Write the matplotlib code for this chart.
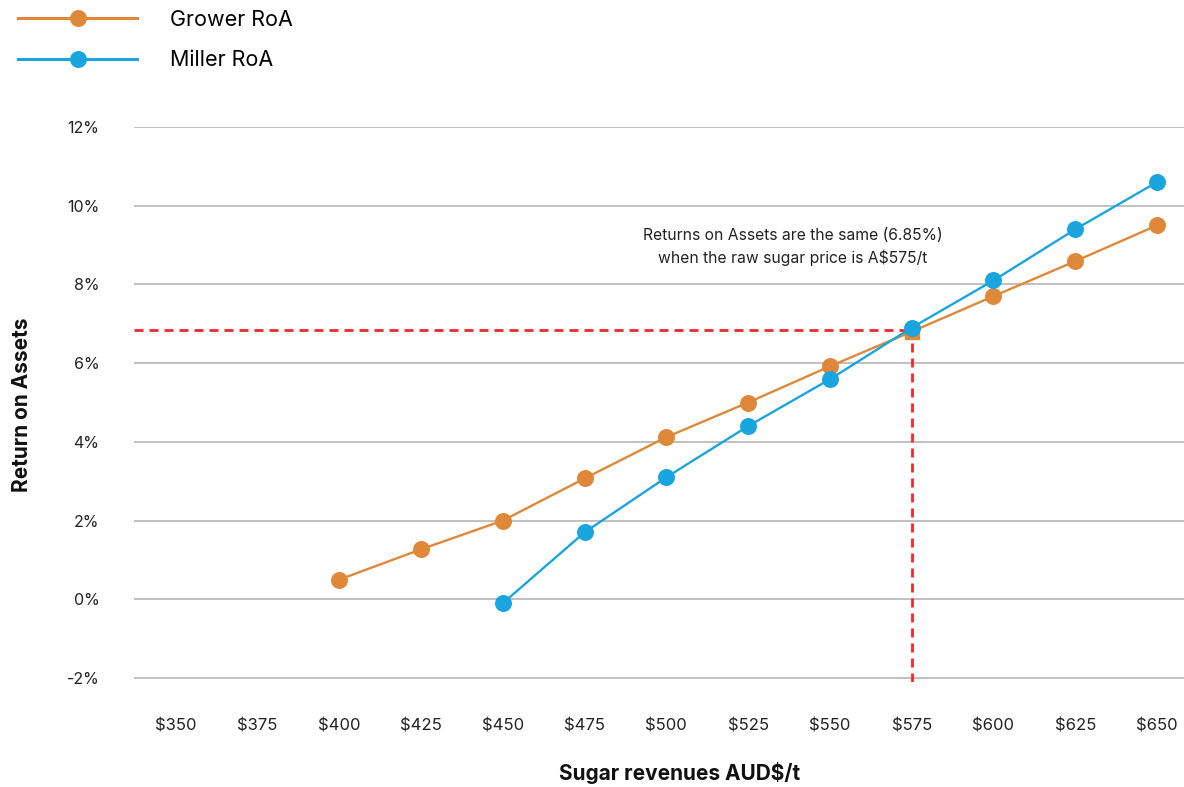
import matplotlib
matplotlib.use("Agg")
import matplotlib.pyplot as plt
import numpy as np

plt.rcParams['font.family'] = ['Inter', 'DejaVu Sans']

# Sugar price categories (AUD$/t)
prices = ["$350", "$375", "$400", "$425", "$450", "$475", "$500",
          "$525", "$550", "$575", "$600", "$625", "$650"]

# Return on assets (%) by price; None where no value
grower_roa = [None, None, 0.5, 1.27, 2.0, 3.07, 4.12, 5.0, 5.92, 6.8, 7.7, 8.59, 9.5]
miller_roa = [None, None, None, None, -0.1, 1.7, 3.1, 4.4, 5.59, 6.9, 8.1, 9.4, 10.6]

breakeven_price = "$575"
breakeven_roa = 6.85

y_ticks = [-2, 0, 2, 4, 6, 8, 10, 12]

ORANGE = "#E0883A"
BLUE = "#1AA5DE"
RED = "#EE2A2F"
GRID = "#B5B5B5"

W, H = 1184, 787
fig = plt.figure(figsize=(W / 100, H / 100), dpi=100)
ax = fig.add_axes([134 / W, 1 - 682 / H, (W - 134) / W, (682 - 127) / H])

x = np.arange(len(prices))

def series(vals):
    xs = [i for i, v in enumerate(vals) if v is not None]
    ys = [v for v in vals if v is not None]
    return np.array(xs), np.array(ys)

gx, gy = series(grower_roa)
mx, my = series(miller_roa)
be_idx = prices.index(breakeven_price)

MS = 11.2
LW = 1.7

# Grower: circles everywhere except the crossing point, drawn as a square
g_mask = gx != be_idx
ax.plot(gx, gy, color=ORANGE, lw=LW, zorder=3)
ax.plot(gx[g_mask], gy[g_mask], 'o', color=ORANGE, ms=MS, zorder=4)
ax.plot(gx[~g_mask], gy[~g_mask], 's', color=ORANGE, ms=10.5, zorder=4)

ax.plot(mx, my, color=BLUE, lw=LW, zorder=5)
ax.plot(mx, my, 'o', color=BLUE, ms=MS, zorder=6)

# Legend handles
ax.plot([], [], '-o', color=ORANGE, lw=2.2, ms=MS, label="Grower RoA")
ax.plot([], [], '-o', color=BLUE, lw=2.2, ms=MS, label="Miller RoA")

ylo = -2 - 4 / 39.36
xlo = -0.51
xhi = (W - 176) / 81.75
ax.set_xlim(xlo, xhi)
ax.set_ylim(ylo, 12)

# Break-even guide lines
dash = (0, (3.25, 2.15))
ax.plot([xlo, be_idx], [breakeven_roa, breakeven_roa], ls=dash,
        color=RED, lw=2.0, zorder=2)
ax.plot([be_idx, be_idx], [ylo, breakeven_roa], ls=dash,
        color=RED, lw=2.0, zorder=2)

ax.text(7.55, 8.96, "Returns on Assets are the same (6.85%)\nwhen the raw sugar price is A$575/t",
        ha="center", va="center", fontsize=11.3, linespacing=1.5, color="#222222")

ax.set_yticks(y_ticks)
ax.set_yticklabels([f"{t}%" for t in y_ticks])
ax.set_xticks(x)
ax.set_xticklabels(prices)
ax.yaxis.grid(True, color=GRID, lw=1.2)
ax.set_axisbelow(True)
for s in ax.spines.values():
    s.set_visible(False)
ax.tick_params(axis='y', length=0, pad=25, labelsize=11.5, labelcolor="#222222")
ax.tick_params(axis='x', length=0, pad=26, labelsize=12, labelcolor="#222222")

fig.text(22 / W, 1 - 405 / H, "Return on Assets", rotation=90, ha="center", va="center",
         fontsize=15, fontweight="bold", color="#111111")
fig.text(680 / W, 1 - 773 / H, "Sugar revenues AUD$/t", ha="center", va="center",
         fontsize=15, fontweight="bold", color="#111111")

fig.legend(loc="upper left", bbox_to_anchor=(18 / W, 1 - 10 / H), frameon=False,
           fontsize=15.5, handlelength=5.53, handletextpad=1.53, labelspacing=0.95,
           borderaxespad=0, borderpad=0)

fig.savefig("out.png", dpi=100)
